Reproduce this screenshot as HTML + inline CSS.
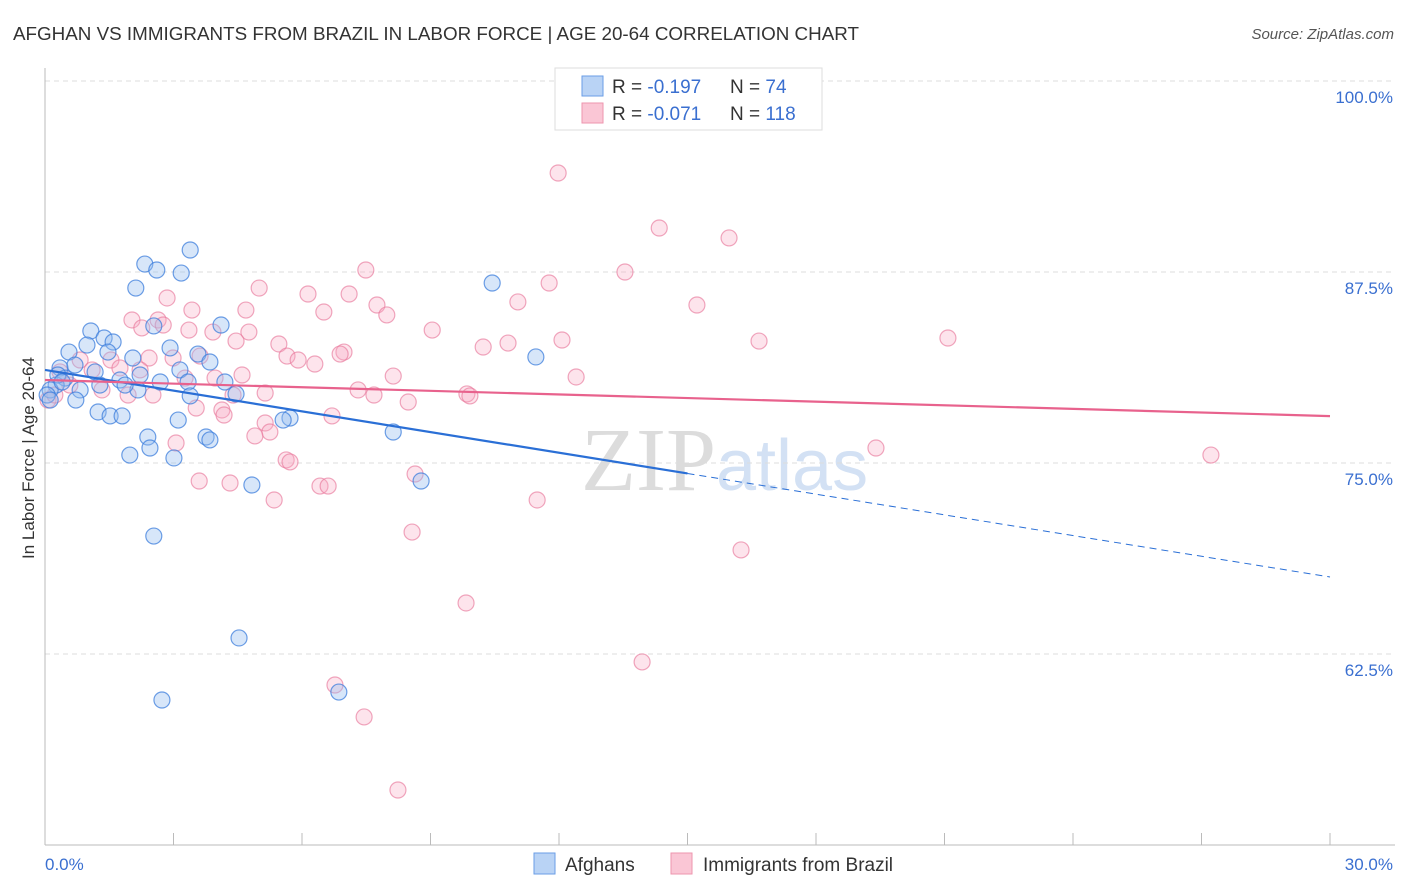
<!DOCTYPE html>
<html><head><meta charset="utf-8"><style>
body{margin:0;background:#fff;width:1406px;height:892px;overflow:hidden;font-family:"Liberation Sans",sans-serif}
svg{position:absolute;left:0;top:0}
</style></head><body>
<svg id="chart" width="1406" height="892">
<text x="13" y="40" font-size="18" fill="#333" textLength="846" lengthAdjust="spacingAndGlyphs">AFGHAN VS IMMIGRANTS FROM BRAZIL IN LABOR FORCE | AGE 20-64 CORRELATION CHART</text>
<text x="1394" y="39" font-size="15" fill="#555" font-style="italic" text-anchor="end">Source: ZipAtlas.com</text>
<text x="716" y="490" font-size="90" fill="#dcdcdc" text-anchor="end" font-family="Liberation Serif,serif">ZIP</text>
<text x="716" y="490" font-size="72" fill="#d3e1f4">atlas</text>
<g id="grid"></g>
<g id="marks"></g>
<g id="trends"></g>
<text transform="translate(34,458) rotate(-90)" font-size="17" fill="#333" text-anchor="middle">In Labor Force | Age 20-64</text>
<g>
<rect x="555" y="68" width="267" height="62" fill="#fff" stroke="#ddd"/>
<rect x="582" y="76" width="21" height="20" fill="#b9d3f5" stroke="#6a9ee6"/>
<rect x="582" y="103" width="21" height="20" fill="#fac6d5" stroke="#ee95ae"/>
<text x="612" y="93" font-size="19" fill="#333">R = <tspan fill="#3a6fd0">-0.197</tspan></text>
<text x="730" y="93" font-size="19" fill="#333">N = <tspan fill="#3a6fd0"> 74</tspan></text>
<text x="612" y="120" font-size="19" fill="#333">R = <tspan fill="#3a6fd0">-0.071</tspan></text>
<text x="730" y="120" font-size="19" fill="#333">N = <tspan fill="#3a6fd0">118</tspan></text>
</g>
<g>
<rect x="534" y="853" width="21" height="21" fill="#b9d3f5" stroke="#6a9ee6"/>
<text x="565" y="871" font-size="19" fill="#333">Afghans</text>
<rect x="671" y="853" width="21" height="21" fill="#fac6d5" stroke="#ee95ae"/>
<text x="703" y="871" font-size="19" fill="#333">Immigrants from Brazil</text>
</g>
</svg>
<script>
const yTicks=[100,87.5,75,62.5];
const yTickLabels=["100.0%","87.5%","75.0%","62.5%"];
const xTickLabels=["0.0%","30.0%"];
const blueX=[3.39,2.33,2.61,3.18,2.12,4.11,2.54,1.07,1.38,1.59,0.56,0.98,1.47,2.05,3.57,2.92,3.85,3.15,0.35,0.70,0.47,0.26,1.75,2.22,2.69,3.34,4.20,0.12,0.82,1.28,2.17,4.46,3.39,0.72,1.24,1.52,1.80,3.11,2.40,3.76,3.85,2.45,1.98,3.01,5.72,5.56,8.13,8.78,4.83,2.54,4.53,6.86,2.73,10.44,11.46,0.05,0.12,0.30,0.40,1.17,1.87];
const blueY=[88.94,88.02,87.63,87.43,86.45,84.03,83.97,83.64,83.18,82.92,82.26,82.72,82.26,81.87,82.13,82.53,81.61,81.09,81.22,81.41,80.56,80.10,80.43,80.76,80.30,80.30,80.30,79.78,79.78,80.10,79.78,79.52,79.39,79.12,78.34,78.08,78.08,77.81,76.70,76.70,76.51,75.98,75.52,75.33,77.94,77.81,77.03,73.82,73.56,70.22,63.55,60.01,59.49,86.78,81.94,79.45,79.12,80.76,80.30,80.96,80.10];
const pinkX=[11.98,14.34,15.97,7.49,13.54,11.77,5.00,6.14,7.10,2.85,11.04,15.22,7.75,3.43,4.69,7.98,6.51,9.04,2.03,2.64,2.76,2.26,3.36,3.92,4.76,12.07,16.67,21.08,10.81,10.23,4.46,5.46,6.98,6.89,5.65,5.91,6.30,2.43,2.99,3.62,1.54,0.82,0.35,1.10,1.75,2.22,3.27,3.97,4.60,12.40,8.13,7.31,7.68,9.85,9.92,8.48,5.14,4.39,2.52,1.33,1.94,4.13,4.18,3.53,6.70,5.14,5.25,4.90,3.06,5.63,5.72,3.60,4.32,6.42,6.61,5.35,11.49,8.64,19.40,27.22,8.57,16.25,9.83,13.94,6.77,7.45,8.24,0.07,0.23,0.58];
const pinkY=[93.98,90.38,89.73,87.63,87.50,86.78,86.45,86.06,86.06,85.80,85.54,85.34,85.34,85.01,85.01,84.69,84.88,83.70,84.36,84.36,84.03,83.84,83.70,83.57,83.57,83.05,82.98,83.18,82.85,82.59,82.98,82.79,82.26,82.13,82.00,81.74,81.48,81.87,81.87,82.00,81.74,81.74,80.96,81.09,81.22,81.09,80.56,80.56,80.76,80.63,80.69,79.78,79.45,79.52,79.39,78.99,79.58,79.45,79.45,79.78,79.45,78.47,78.14,78.60,78.08,77.62,77.03,76.77,76.31,75.20,75.07,73.82,73.69,73.49,73.49,72.58,72.58,74.28,75.98,75.52,70.48,69.31,65.84,61.98,60.47,58.38,53.60,79.12,79.45,80.10];
const blueTrend=[81.09,67.54];
const pinkTrend=[80.43,78.07];
const X0=45,X1=1330,xMax=30;
const sx=v=>X0+(X1-X0)*v/xMax;
const sy=v=>81+(100-v)*15.28;
const NS="http://www.w3.org/2000/svg";
function mk(tag,attrs,parent){const e=document.createElementNS(NS,tag);for(const k in attrs)e.setAttribute(k,attrs[k]);parent.appendChild(e);return e;}
const grid=document.getElementById('grid');
yTicks.forEach((t,i)=>{
 const l=mk('line',{x1:45,x2:1395,y1:sy(t),y2:sy(t),stroke:'#ddd','stroke-dasharray':'5,4'},grid);
 
 
 const tx=mk('text',{x:1393,y:sy(t)+22,'font-size':17,fill:'#3a6fd0','text-anchor':'end'},grid);
 tx.textContent=yTickLabels[i];
 
 
});
const ax=mk('line',{x1:45,x2:45,y1:68,y2:845,stroke:'#bbb'},grid);


const bx=mk('line',{x1:45,x2:1395,y1:845,y2:845,stroke:'#bbb'},grid);


for(let k=1;k<=10;k++){const t=mk('line',{x1:sx(k*3),x2:sx(k*3),y1:833,y2:845,stroke:'#bbb'},grid);
 
 }
const xl0=mk('text',{x:45,y:870,'font-size':17,fill:'#3a6fd0'},grid);xl0.textContent=xTickLabels[0];


const xl1=mk('text',{x:1393,y:870,'font-size':17,fill:'#3a6fd0','text-anchor':'end'},grid);xl1.textContent=xTickLabels[1];


const marks=document.getElementById('marks');
pinkX.forEach((x,i)=>{const c=mk('circle',{cx:sx(x),cy:sy(pinkY[i]),r:8,fill:'rgba(248,170,195,0.32)',stroke:'rgba(232,120,155,0.65)','stroke-width':1.2},marks);
 
 });
blueX.forEach((x,i)=>{const c=mk('circle',{cx:sx(x),cy:sy(blueY[i]),r:8,fill:'rgba(150,190,240,0.38)',stroke:'rgba(60,125,220,0.75)','stroke-width':1.2},marks);
 
 });
const tr=document.getElementById('trends');
const bSplit=15;
const bMid=blueTrend[0]+(blueTrend[1]-blueTrend[0])*bSplit/xMax;
const b1=mk('line',{x1:sx(0),y1:sy(blueTrend[0]),x2:sx(bSplit),y2:sy(bMid),stroke:'#2a6fd6','stroke-width':2.2},tr);


const b2=mk('line',{x1:sx(bSplit),y1:sy(bMid),x2:sx(xMax),y2:sy(blueTrend[1]),stroke:'#2a6fd6','stroke-width':1,'stroke-dasharray':'7,5'},tr);


const p1=mk('line',{x1:sx(0),y1:sy(pinkTrend[0]),x2:sx(xMax),y2:sy(pinkTrend[1]),stroke:'#e8628d','stroke-width':2.2},tr);


</script>
</body></html>
